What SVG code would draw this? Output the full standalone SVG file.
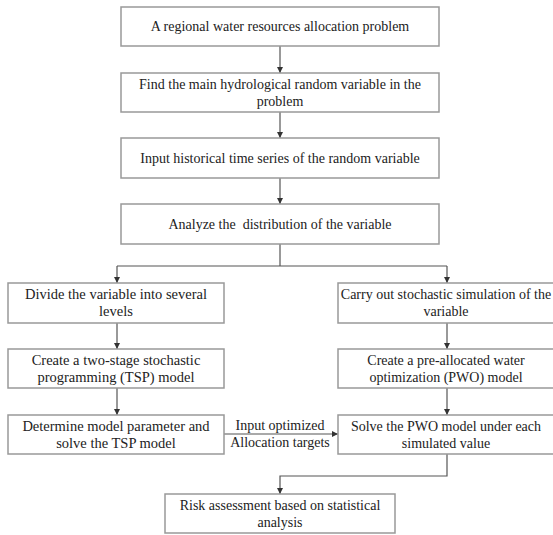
<svg xmlns="http://www.w3.org/2000/svg" width="553" height="535" viewBox="0 0 553 535">
<defs>
<marker id="ah" viewBox="0 0 8 8" refX="8" refY="4" markerWidth="6" markerHeight="6" orient="auto" markerUnits="userSpaceOnUse">
<path d="M0,0 L8,4 L0,8 Z" fill="#333"/>
</marker>
<style>
.box{fill:#fff;stroke:#999;stroke-width:1.5}
.t{font-family:'Liberation Serif','Times New Roman',serif;font-size:14px;fill:#222;text-anchor:middle}
.l{font-size:14.5px}
.c{fill:none;stroke:#555;stroke-width:1.2}
</style>
</defs>
<rect width="553" height="535" fill="#fff"/>
<g id="connectors">
<path class="c" d="M280,46 V73" marker-end="url(#ah)"/>
<path class="c" d="M280,112 V138" marker-end="url(#ah)"/>
<path class="c" d="M280,178 V204" marker-end="url(#ah)"/>
<path class="c" d="M280,244 V266"/>
<path class="c" d="M117,266 H447"/>
<path class="c" d="M117,266 V283" marker-end="url(#ah)"/>
<path class="c" d="M447,266 V283" marker-end="url(#ah)"/>
<path class="c" d="M117,323 V349" marker-end="url(#ah)"/>
<path class="c" d="M447,323 V349" marker-end="url(#ah)"/>
<path class="c" d="M117,388 V415" marker-end="url(#ah)"/>
<path class="c" d="M447,388 V415" marker-end="url(#ah)"/>
<path class="c" d="M224,434 H338" marker-end="url(#ah)"/>
<path class="c" d="M447,454 V476 H280 V494" marker-end="url(#ah)"/>
<text class="t" x="280" y="430">Input optimized</text>
<text class="t" x="280" y="447">Allocation targets</text>
</g>
<g id="n1"><rect class="box" x="121" y="7" width="318" height="39"/><text class="t" x="280" y="31">A regional water resources allocation problem</text></g>
<g id="n2"><rect class="box" x="121" y="73" width="318" height="39"/><text class="t" x="280" y="89">Find the main hydrological random variable in the</text><text class="t" x="280" y="106">problem</text></g>
<g id="n3"><rect class="box" x="121" y="138" width="318" height="40"/><text class="t" x="280" y="163">Input historical time series of the random variable</text></g>
<g id="n4"><rect class="box" x="121" y="204" width="318" height="40"/><text class="t" x="280" y="229">Analyze the&#160; distribution of the variable</text></g>
<g id="n5"><rect class="box" x="8" y="283" width="216" height="40"/><text class="t l" x="116" y="299">Divide the variable into several</text><text class="t l" x="116" y="316">levels</text></g>
<g id="n6"><rect class="box" x="338" y="283" width="218" height="40"/><text class="t" x="446" y="299">Carry out stochastic simulation of the</text><text class="t" x="446" y="316">variable</text></g>
<g id="n7"><rect class="box" x="8" y="349" width="216" height="39"/><text class="t l" x="116" y="365">Create a two-stage stochastic</text><text class="t l" x="116" y="382">programming (TSP) model</text></g>
<g id="n8"><rect class="box" x="338" y="349" width="218" height="39"/><text class="t" x="446" y="365">Create a pre-allocated water</text><text class="t" x="446" y="382">optimization (PWO) model</text></g>
<g id="n9"><rect class="box" x="8" y="415" width="216" height="39"/><text class="t l" x="116" y="431">Determine model parameter and</text><text class="t l" x="116" y="448">solve the TSP model</text></g>
<g id="n10"><rect class="box" x="338" y="415" width="218" height="39"/><text class="t" x="446" y="431">Solve the PWO model under each</text><text class="t" x="446" y="448">simulated value</text></g>
<g id="n11"><rect class="box" x="165" y="494" width="230" height="39"/><text class="t" x="280" y="510">Risk assessment based on statistical</text><text class="t" x="280" y="527">analysis</text></g>
</svg>
